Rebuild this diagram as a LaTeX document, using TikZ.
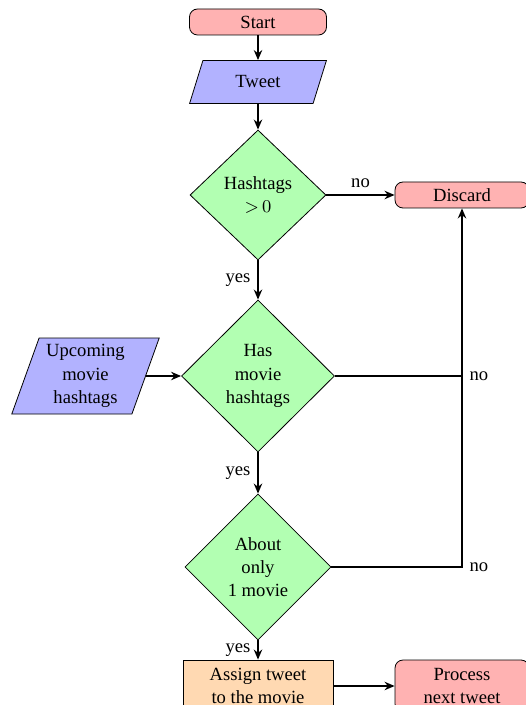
\documentclass[tikz,border=0pt]{standalone}
\usepackage{fontspec}
\setmainfont{Liberation Serif}
\usetikzlibrary{shapes.geometric,arrows.meta}
\begin{document}
\begin{tikzpicture}[x=0.5pt,y=-0.5pt,
  font=\rmfamily\fontsize{9.3}{11.6}\selectfont,
  base/.style={draw, line width=0.4pt, inner sep=1pt, align=center},
  term/.style={base, rectangle, rounded corners=4pt, fill=red!30},
  io/.style={base, trapezium, trapezium stretches=true, trapezium left angle=70, trapezium right angle=110, fill=blue!30},
  decision/.style={base, diamond, fill=green!30, inner sep=0pt},
  proc/.style={base, rectangle, fill=orange!30},
  conn/.style={line width=0.9pt, -{Stealth[length=5pt,width=4.2pt]}},
  plain/.style={line width=0.9pt}
]
\useasboundingbox (0,0) rectangle (525,705);
\node[term, minimum width=68.5pt, minimum height=13pt] (start) at (258,22) {Start};
\node[io, minimum width=68.5pt, minimum height=21.5pt] (tweet) at (258,82) {Tweet};
\node[decision, minimum width=68pt, minimum height=65pt] (hash) at (258,195) {Hashtags\\${>}\,0$};
\node[term, minimum width=67pt, minimum height=13pt] (discard) at (462,195) {Discard};
\node[decision, minimum width=76.5pt, minimum height=76pt] (has) at (258,376) {Has\\movie\\hashtags};
\node[io, minimum width=74pt, minimum height=38pt] (up) at (85.5,376) {Upcoming\\movie\\hashtags};
\node[decision, minimum width=73pt, minimum height=73pt] (about) at (258,567) {About\\only\\1 movie};
\node[proc, minimum width=75pt, minimum height=26pt] (assign) at (258,686) {Assign tweet\\to the movie};
\node[term, minimum width=67pt, minimum height=26pt] (next) at (462,686) {Process\\next tweet};

\draw[conn] (start) -- (tweet);
\draw[conn] (tweet) -- (hash);
\draw[conn] (hash) -- node[above] {no} (discard);
\draw[conn] (hash) -- node[left] {yes} (has);
\draw[conn] (up) -- (has);
\draw[plain] (has.east) -- (has.east -| discard.south) coordinate (c1) node[right] {no};
\draw[conn] (has) -- node[left] {yes} (about);
\draw[conn] (about.east) -| node[pos=0.5, right] {no} (discard.south);
\draw[conn] (about) -- node[left] {yes} (assign);
\draw[conn] (assign) -- (next);
\end{tikzpicture}
\end{document}
